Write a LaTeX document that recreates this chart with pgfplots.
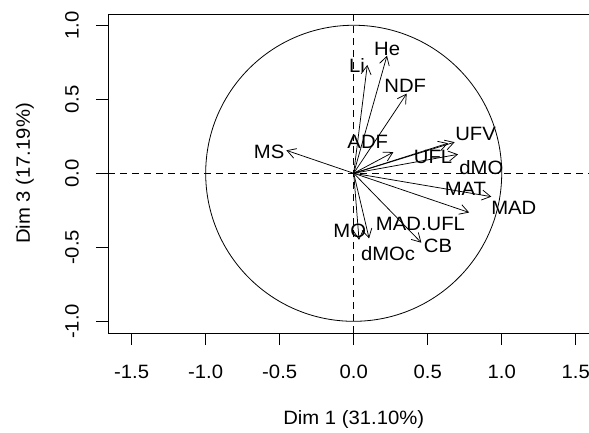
\documentclass[border=0pt]{standalone}
\usepackage{fontspec}
\setmainfont[FakeStretch=1.05]{Liberation Sans}
\usepackage{pgfplots}
\usepackage{pgfplotstable}
\pgfplotsset{compat=1.18}
\usetikzlibrary{arrows.meta}

% variable loadings on Dim 1 / Dim 3 (arrow tips)
\pgfplotstableread{
var  x y u      v
Li   0 0 0.092  0.732
He   0 0 0.225  0.795
NDF  0 0 0.358  0.538
ADF  0 0 0.268  0.143
MS   0 0 -0.455 0.155
UFV  0 0 0.682  0.210
UFL  0 0 0.637  0.203
dMO  0 0 0.705  0.128
MAD  0 0 0.930  -0.158
MAT  0 0 0.780  -0.265
CB   0 0 0.457  -0.469
MO   0 0 0.036  -0.450
dMOc 0 0 0.104  -0.440
}\loadings

% label positions
\pgfplotstableread{
lab     x      y
He      0.226  0.840
Li      0.022  0.728
NDF     0.348  0.589
ADF     0.095  0.211
MS      -0.571 0.146
UFV     0.823  0.267
UFL     0.536  0.108
dMO     0.863  0.036
MAT     0.755  -0.107
MAD     1.082  -0.231
MAD.UFL 0.451  -0.344
CB      0.570  -0.490
MO      -0.027 -0.392
dMOc    0.232  -0.544
}\labels

\begin{document}
\fontsize{19.3}{22}\selectfont
\begin{tikzpicture}
\useasboundingbox (-108pt,-99pt) rectangle (481pt,333pt);
\begin{axis}[
    scale only axis,
    width=491.4pt, height=319pt,
    xmin=-1.66, xmax=1.66,
    ymin=-1.079, ymax=1.076,
    axis line style={line width=0.9pt},
    xtick={-1.5,-1,-0.5,0,0.5,1,1.5},
    xticklabels={-1.5,-1.0,-0.5,0.0,0.5,1.0,1.5},
    ytick={-1,-0.5,0,0.5,1},
    yticklabels={-1.0,-0.5,0.0,0.5,1.0},
    tick align=outside,
    xtick pos=left, ytick pos=left,
    major tick length=12pt,
    tick style={line width=0.9pt, black},
    xticklabel style={inner sep=0pt, anchor=north},
    yticklabel style={inner sep=0pt, rotate=90, anchor=south},
    xticklabel shift=20pt,
    yticklabel shift=17pt,
    xlabel={Dim 1 (31.10\%)},
    ylabel={Dim 3 (17.19\%)},
    xlabel style={at={(axis description cs:0.5,-0.2727)}, anchor=center, inner sep=0pt},
    ylabel style={at={(axis description cs:-0.1689,0.5)}, anchor=center, inner sep=0pt},
    clip=false,
]
\draw[line width=0.8pt] (axis cs:0,0) circle[radius=1];
\addplot[black, line width=0.8pt, dash pattern=on 7pt off 5pt] coordinates {(-1.66,0) (1.66,0)};
\addplot[black, line width=0.8pt, dash pattern=on 7pt off 5pt] coordinates {(0,-1.079) (0,1.076)};
\addplot[black, line width=0.75pt,
    quiver={u=\thisrow{u}, v=\thisrow{v}},
    -{Straight Barb[length=8.7pt, width=10pt, line width=0.75pt]}]
    table[x=x, y=y] {\loadings};
\addplot[draw=none, mark=none, nodes near coords, point meta=explicit symbolic,
    nodes near coords style={anchor=center, inner sep=0pt, black}]
    table[x=x, y=y, meta=lab] {\labels};
\end{axis}
\end{tikzpicture}
\end{document}
